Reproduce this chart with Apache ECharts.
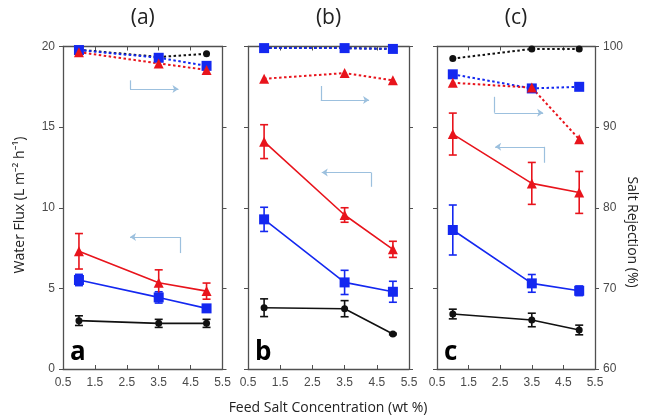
<!DOCTYPE html>
<html>
<head>
<meta charset="utf-8">
<script src="https://cdn.jsdelivr.net/npm/echarts@6/dist/echarts.min.js"></script>
<style>
  html, body { margin: 0; padding: 0; background: #fff; }
  #chart { width: 645px; height: 419px; }
</style>
</head>
<body>
<div id="chart"></div>
<script>
// feed salt concentration (wt %)
const xVals = [1, 3.5, 5];
const panelTitles = ["(a)", "(b)", "(c)"];
const panelLetters = ["a", "b", "c"];

// water flux (L m-2 h-1) and error, per panel
const fluxRedA = [7.3, 5.35, 4.83];
const errRedA = [1.1, 0.8, 0.5];
const fluxBlueA = [5.52, 4.44, 3.76];
const errBlueA = [0.35, 0.35, 0.15];
const fluxBlackA = [3.0, 2.83, 2.83];
const errBlackA = [0.3, 0.25, 0.25];

const fluxRedB = [14.1, 9.55, 7.42];
const errRedB = [1.05, 0.45, 0.5];
const fluxBlueB = [9.28, 5.37, 4.79];
const errBlueB = [0.75, 0.75, 0.65];
const fluxBlackB = [3.8, 3.74, 2.17];
const errBlackB = [0.55, 0.5, 0.05];

const fluxRedC = [14.57, 11.51, 10.95];
const errRedC = [1.3, 1.3, 1.3];
const fluxBlueC = [8.62, 5.31, 4.85];
const errBlueC = [1.55, 0.55, 0.3];
const fluxBlackC = [3.41, 3.04, 2.42];
const errBlackC = [0.3, 0.42, 0.3];

// salt rejection (%)
const rejRedA = [99.3, 97.9, 97.1];
const rejBlueA = [99.56, 98.6, 97.6];
const rejBlackA = [99.6, 98.7, 99.1];

const rejRedB = [96.0, 96.7, 95.8];
const rejBlueB = [99.8, 99.8, 99.7];
const rejBlackB = [99.8, 99.8, 99.7];

const rejRedC = [95.5, 94.9, 88.5];
const rejBlueC = [96.55, 94.8, 95.0];
const rejBlackC = [98.5, 99.7, 99.7];

// annotation arrows: [start, corner, end] in (wt %, flux) coords
const arrowsA = [[[2.6, 17.9], [2.6, 17.36], [4.12, 17.36]], [[4.18, 7.19], [4.18, 8.18], [2.6, 8.18]]];
const arrowsB = [[[2.76, 17.55], [2.76, 16.68], [4.26, 16.68]], [[4.32, 11.3], [4.32, 12.19], [2.79, 12.19]]];
const arrowsC = [[[2.32, 16.88], [2.32, 15.89], [3.86, 15.89]], [[3.9, 12.79], [3.9, 13.78], [2.34, 13.78]]];

const RED = "#e8141c";
const BLUE = "#1428f0";
const BLACK = "#111";
const ARROW = "#9cc0de";
const AXIS = "#505050";

const panels = [
  { red: [fluxRedA, errRedA, rejRedA], blue: [fluxBlueA, errBlueA, rejBlueA], black: [fluxBlackA, errBlackA, rejBlackA], arrows: arrowsA },
  { red: [fluxRedB, errRedB, rejRedB], blue: [fluxBlueB, errBlueB, rejBlueB], black: [fluxBlackB, errBlackB, rejBlackB], arrows: arrowsB },
  { red: [fluxRedC, errRedC, rejRedC], blue: [fluxBlueC, errBlueC, rejBlueC], black: [fluxBlackC, errBlackC, rejBlackC], arrows: arrowsC },
];

const gridBoxes = [
  { left: 63, top: 46.5, width: 159.5, height: 322.5 },
  { left: 248, top: 46.5, width: 161, height: 322.5 },
  { left: 437, top: 46.5, width: 158, height: 322.5 },
];

const tickFont = { fontFamily: "Liberation Sans, Arial, sans-serif", fontSize: 12, color: "#4a4a4a" };

function errorSeries(i, xs, ys, es, color) {
  return {
    type: "custom",
    xAxisIndex: 2 * i,
    yAxisIndex: 2 * i,
    z: 2,
    silent: true,
    data: xs.map((x, k) => [x, ys[k] - es[k], ys[k] + es[k]]),
    renderItem(params, api) {
      const lo = api.coord([api.value(0), api.value(1)]);
      const hi = api.coord([api.value(0), api.value(2)]);
      const half = 4;
      const style = { stroke: color, lineWidth: 1.6 };
      return {
        type: "group",
        children: [
          { type: "line", shape: { x1: lo[0], y1: lo[1], x2: hi[0], y2: hi[1] }, style },
          { type: "line", shape: { x1: lo[0] - half, y1: lo[1], x2: lo[0] + half, y2: lo[1] }, style },
          { type: "line", shape: { x1: hi[0] - half, y1: hi[1], x2: hi[0] + half, y2: hi[1] }, style },
        ],
      };
    },
  };
}

function lineSeries(i, ys, color, symbol, size, dotted) {
  return {
    type: "line",
    xAxisIndex: 2 * i,
    yAxisIndex: dotted ? 2 * i + 1 : 2 * i,
    z: dotted ? 3 : 4,
    symbol,
    symbolSize: size,
    showAllSymbol: true,
    itemStyle: { color },
    lineStyle: dotted ? { color, width: 2, type: [2.5, 2.5] } : { color, width: 1.6 },
    data: xVals.map((x, k) => [x, ys[k]]),
    animation: false,
  };
}

function arrowSeries(i, arrows) {
  const segs = [];
  arrows.forEach((p) => {
    segs.push([{ coord: p[0], symbol: "none" }, { coord: p[1], symbol: "none" }]);
    segs.push([{ coord: p[1], symbol: "none" }, { coord: p[2], symbol: "arrow", symbolSize: [6, 6] }]);
  });
  return {
    type: "line",
    xAxisIndex: 2 * i,
    yAxisIndex: 2 * i,
    data: [],
    silent: true,
    markLine: {
      silent: true,
      animation: false,
      label: { show: false },
      lineStyle: { color: ARROW, width: 1.2, type: "solid" },
      data: segs,
    },
  };
}

const grid = gridBoxes.map((g) => ({ ...g, containLabel: false }));
const xAxis = [];
const yAxis = [];
const series = [];

gridBoxes.forEach((g, i) => {
  const line = { show: true, onZero: false, lineStyle: { color: AXIS, width: 1.3 } };
  xAxis.push({
    type: "value", gridIndex: i, position: "bottom", min: 0.5, max: 5.5, interval: 1,
    axisLine: line,
    axisTick: { show: true, inside: true, length: 4, lineStyle: { color: AXIS } },
    axisLabel: { ...tickFont, margin: 8, formatter: (v) => v.toFixed(1) },
    splitLine: { show: false },
  });
  xAxis.push({
    type: "value", gridIndex: i, position: "top", min: 0.5, max: 5.5, interval: 1,
    axisLine: line,
    axisTick: { show: true, inside: true, length: 4, lineStyle: { color: AXIS } },
    axisLabel: { show: false },
    splitLine: { show: false },
  });
  yAxis.push({
    type: "value", gridIndex: i, position: "left", min: 0, max: 20, interval: 5,
    axisLine: line,
    axisTick: { show: true, inside: false, length: 4, lineStyle: { color: AXIS } },
    axisLabel: { ...tickFont, show: i === 0, margin: 8 },
    splitLine: { show: false },
  });
  yAxis.push({
    type: "value", gridIndex: i, position: "right", min: 60, max: 100, interval: 10,
    axisLine: line,
    axisTick: { show: true, inside: false, length: 4, lineStyle: { color: AXIS } },
    axisLabel: { ...tickFont, show: i === 2, margin: 8 },
    splitLine: { show: false },
  });

  const p = panels[i];
  series.push(arrowSeries(i, p.arrows));
  series.push(errorSeries(i, xVals, p.black[0], p.black[1], BLACK));
  series.push(errorSeries(i, xVals, p.blue[0], p.blue[1], BLUE));
  series.push(errorSeries(i, xVals, p.red[0], p.red[1], RED));
  series.push(lineSeries(i, p.black[0], BLACK, "circle", 7, false));
  series.push(lineSeries(i, p.blue[0], BLUE, "rect", 10, false));
  series.push(lineSeries(i, p.red[0], RED, "triangle", 10, false));
  series.push(lineSeries(i, p.black[2], BLACK, "circle", 7, true));
  series.push(lineSeries(i, p.blue[2], BLUE, "rect", 10, true));
  series.push(lineSeries(i, p.red[2], RED, "triangle", 10, true));
});

const titleFont = "Open Sans, Noto Sans, sans-serif";
const graphic = [];
gridBoxes.forEach((g, i) => {
  graphic.push({
    type: "text", x: g.left + g.width / 2, y: 18,
    style: { text: panelTitles[i], font: `21px ${titleFont}`, fill: "#222", align: "center", verticalAlign: "middle" },
  });
  graphic.push({
    type: "text", x: g.left + 7, y: 366,
    style: { text: panelLetters[i], font: `bold 26px ${titleFont}`, fill: "#000", verticalAlign: "bottom" },
  });
});
graphic.push({
  type: "text", x: 20, y: 205, rotation: Math.PI / 2,
  style: { text: "Water Flux (L m⁻² h⁻¹)", font: `14px ${titleFont}`, fill: "#222", align: "center", verticalAlign: "middle" },
});
graphic.push({
  type: "text", x: 632, y: 232, rotation: -Math.PI / 2,
  style: { text: "Salt Rejection (%)", font: `14px ${titleFont}`, fill: "#222", align: "center", verticalAlign: "middle" },
});
graphic.push({
  type: "text", x: 328, y: 408,
  style: { text: "Feed Salt Concentration (wt %)", font: `14px ${titleFont}`, fill: "#222", align: "center", verticalAlign: "middle" },
});

const chart = echarts.init(document.getElementById("chart"), null, { renderer: "canvas" });
chart.setOption({
  animation: false,
  backgroundColor: "#fff",
  grid,
  xAxis,
  yAxis,
  series,
  graphic,
});
</script>
</body>
</html>
